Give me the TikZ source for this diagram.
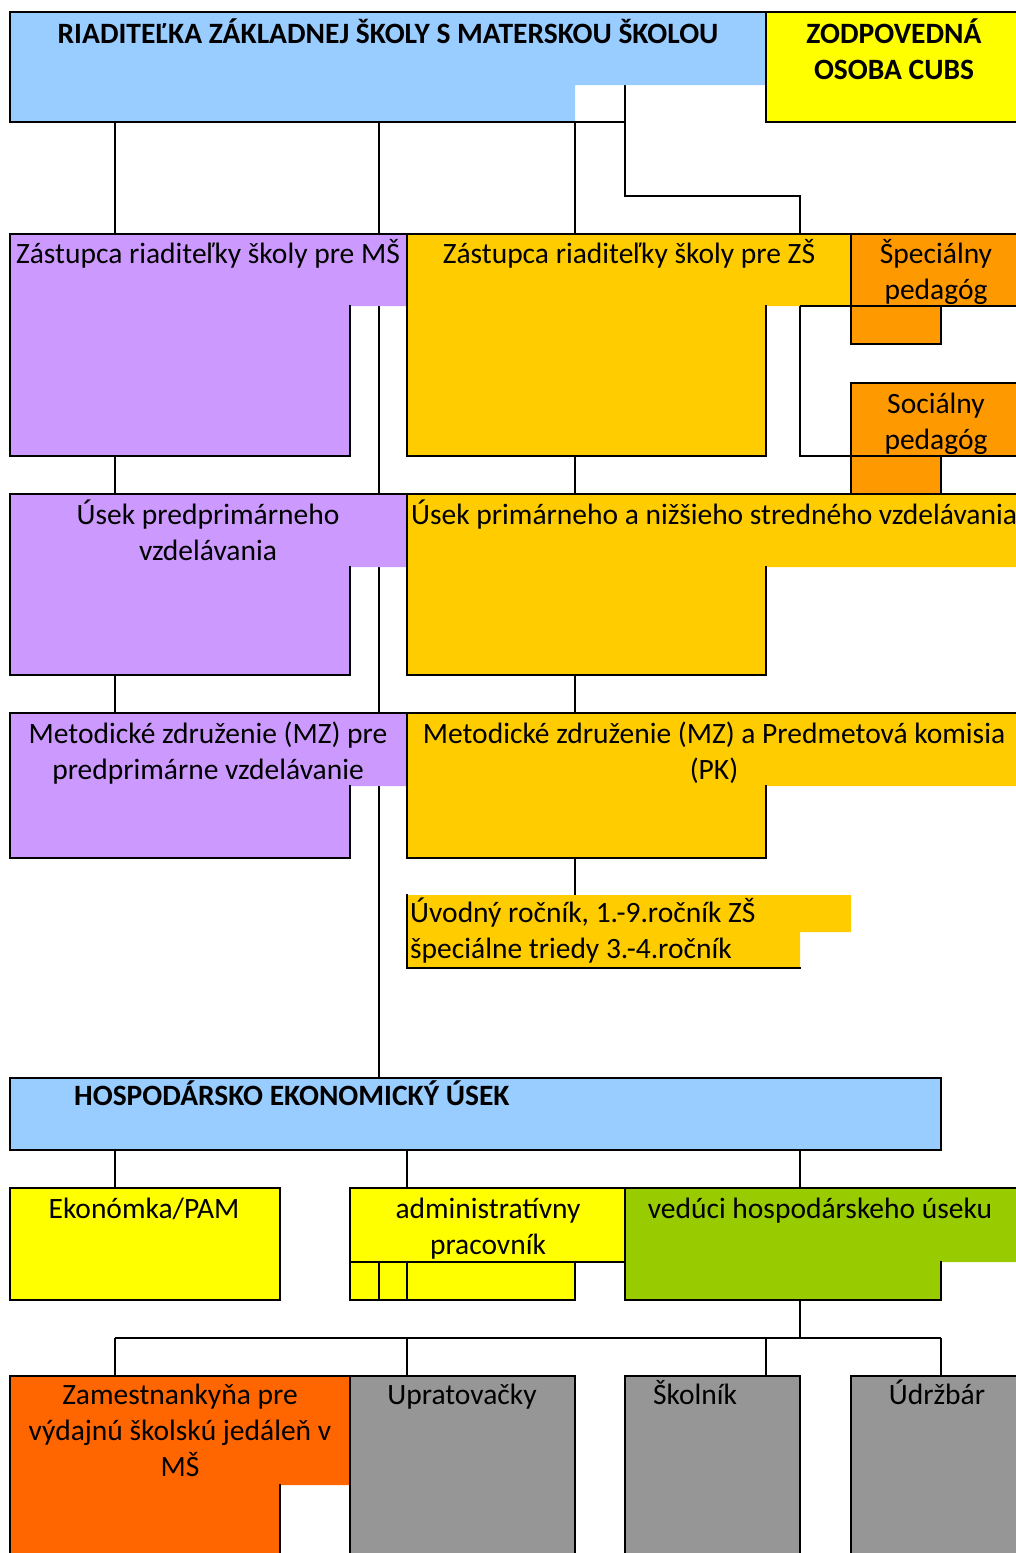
\documentclass[tikz,border=0pt]{standalone}
\usepackage{fontspec}
\setmainfont{Carlito}
\usepackage{xcolor}
\definecolor{skyblue}{HTML}{99CCFF}
\definecolor{lemon}{HTML}{FFFF00}
\definecolor{lilac}{HTML}{CC99FF}
\definecolor{gold}{HTML}{FFCC00}
\definecolor{amber}{HTML}{FF9900}
\definecolor{tangerine}{HTML}{FF6600}
\definecolor{leaf}{HTML}{99CC00}
\definecolor{slate}{HTML}{969696}

\begin{document}
\begin{tikzpicture}[x=1pt,y=-1pt,
    link/.style={line width=1.3pt},
    border/.style={line width=2.4pt,line cap=rect},
    cell/.style={inner sep=0pt,outer sep=0pt,anchor=north west},
    name text/.style={font=\fontsize{29.5}{36}\selectfont,align=center,anchor=base,inner sep=0pt},
    head text/.style={name text,font=\fontsize{29.5}{36}\selectfont\bfseries}]
\useasboundingbox (0,0) rectangle (1016,1553);

% cells of the sheet
\node[cell,minimum width=756pt,minimum height=110pt] (riad) at (10,12) {};
\node[cell,minimum width=250pt,minimum height=110pt] (cubs) at (766,12) {};
\node[cell,minimum width=340pt,minimum height=222pt] (zms) at (10,234) {};
\node[cell,minimum width=359pt,minimum height=222pt] (zzs) at (407,234) {};
\node[cell,minimum width=90pt,minimum height=110pt] (spec) at (851,234) {};
\node[cell,minimum width=90pt,minimum height=111pt] (soc) at (851,383) {};
\node[cell,minimum width=340pt,minimum height=181pt] (upms) at (10,494) {};
\node[cell,minimum width=359pt,minimum height=181pt] (upzs) at (407,494) {};
\node[cell,minimum width=340pt,minimum height=145pt] (mzms) at (10,713) {};
\node[cell,minimum width=359pt,minimum height=145pt] (mzzs) at (407,713) {};
\node[cell,minimum width=393pt,minimum height=73pt] (rocnik) at (407,895) {};
\node[cell,minimum width=931pt,minimum height=72pt] (hosp) at (10,1078) {};
\node[cell,minimum width=270pt,minimum height=112pt] (ekon) at (10,1188) {};
\node[cell,minimum width=225pt,minimum height=112pt] (admin) at (350,1188) {};
\node[cell,minimum width=316pt,minimum height=112pt] (ved) at (625,1188) {};
\node[cell,minimum width=270pt,minimum height=177pt] (jedal) at (10,1376) {};
\node[cell,minimum width=225pt,minimum height=177pt] (uprat) at (350,1376) {};
\node[cell,minimum width=175pt,minimum height=177pt] (skol) at (625,1376) {};
\node[cell,minimum width=165pt,minimum height=177pt] (udrz) at (851,1376) {};

\coordinate (colA) at (115,0);
\coordinate (colB) at (379,0);
\coordinate (colC) at (575,0);
\coordinate (colD) at (407,0);
\coordinate (colE) at (800,0);
\coordinate (colF) at (766,0);
\coordinate (colG) at (941,0);
\coordinate (notch) at (625,85);
\coordinate (bend) at (800,196);
\coordinate (specfoot) at (800,306);
\coordinate (fork) at (800,1338);
\coordinate (rim) at (1016,0);

% lines that run under the coloured cells
\path[link]
    (riad.south -| colA) edge (zms.north -| colA)
    (riad.south -| colB) edge (hosp.north -| colB)
    (riad.south -| colC) edge (zzs.north -| colC)
    (zms.south -| colA) edge (upms.north -| colA)
    (zzs.south -| colC) edge (upzs.north -| colC)
    (upms.south -| colA) edge (mzms.north -| colA)
    (upzs.south -| colC) edge (mzzs.north -| colC)
    (mzzs.south -| colC) edge (rocnik.north -| colC)
    (hosp.south -| colA) edge (ekon.north -| colA)
    (hosp.south -| colD) edge (admin.north -| colD)
    (hosp.south -| colE) edge (ved.north -| colE)
    (ved.south -| colE) edge (fork)
    ;
\draw[link] (notch) |- (bend) -- (zzs.south -| bend) -- (zzs.south -| soc.west);
\draw[link] (fork -| colA) -- (fork -| colG);
\foreach \c/\n in {colA/jedal,colD/uprat,colF/skol,colG/udrz}
    \draw[link] (fork -| \c) -- (\n.north -| \c);

% fills
\fill[skyblue] (10,12) -- (766,12) -- (766,85) -- (575,85) -- (575,122) -- (10,122) -- cycle;
\fill[lemon] (cubs.north west) rectangle (cubs.south east);
\fill[lilac] (10,234) -- (407,234) -- (407,306) -- (350,306) -- (350,456) -- (10,456) -- cycle;
\fill[gold] (407,234) -- (851,234) -- (851,306) -- (766,306) -- (766,456) -- (407,456) -- cycle;
\fill[amber] (851,234) -- (1016,234) -- (1016,306) -- (941,306) -- (941,344) -- (851,344) -- cycle;
\fill[amber] (851,383) -- (1016,383) -- (1016,456) -- (941,456) -- (941,494) -- (851,494) -- cycle;
\fill[lilac] (10,494) -- (407,494) -- (407,567) -- (350,567) -- (350,675) -- (10,675) -- cycle;
\fill[gold] (407,494) -- (1016,494) -- (1016,567) -- (766,567) -- (766,675) -- (407,675) -- cycle;
\fill[lilac] (10,713) -- (407,713) -- (407,786) -- (350,786) -- (350,858) -- (10,858) -- cycle;
\fill[gold] (407,713) -- (1016,713) -- (1016,786) -- (766,786) -- (766,858) -- (407,858) -- cycle;
\fill[gold] (407,895) -- (851,895) -- (851,932) -- (800,932) -- (800,968) -- (407,968) -- cycle;
\fill[skyblue] (hosp.north west) rectangle (hosp.south east);
\fill[lemon] (ekon.north west) rectangle (ekon.south east);
\fill[lemon] (350,1188) -- (625,1188) -- (625,1262) -- (575,1262) -- (575,1300) -- (350,1300) -- cycle;
\fill[leaf] (625,1188) -- (1016,1188) -- (1016,1262) -- (941,1262) -- (941,1300) -- (625,1300) -- cycle;
\fill[tangerine] (10,1376) -- (350,1376) -- (350,1485) -- (280,1485) -- (280,1553) -- (10,1553) -- cycle;
\fill[slate] (uprat.north west) rectangle (uprat.south east);
\fill[slate] (skol.north west) rectangle (skol.south east);
\fill[slate] (udrz.north west) rectangle (udrz.south east);

\draw[link] (specfoot) -- (specfoot -| rim);
\draw[link] (zzs.south -| soc.west) -- (zzs.south -| rim);

% borders
\draw[border] (625,122) -- (10,122) -- (10,12) -- (1016,12);
\draw[border] (766,12) -- (766,122) -- (1016,122);
\draw[border] (10,234) -- (1016,234);
\draw[border] (350,306) -- (350,456) -- (10,456) -- (10,234);
\draw[border] (766,306) -- (766,456) -- (407,456) -- (407,234);
\draw[border] (941,306) -- (941,344) -- (851,344) -- (851,234);
\draw[border] (851,494) -- (851,383) -- (1016,383);
\draw[border] (941,456) -- (941,494);
\draw[border] (10,494) -- (1016,494);
\draw[border] (350,567) -- (350,675) -- (10,675) -- (10,494);
\draw[border] (766,567) -- (766,675) -- (407,675) -- (407,494);
\draw[border] (10,713) -- (1016,713);
\draw[border] (350,786) -- (350,858) -- (10,858) -- (10,713);
\draw[border] (766,786) -- (766,858) -- (407,858) -- (407,713);
\draw[border] (407,895) -- (407,968) -- (800,968);
\draw[border] (hosp.north west) rectangle (hosp.south east);
\draw[border] (ekon.north west) rectangle (ekon.south east);
\draw[border] (625,1188) -- (350,1188) -- (350,1300) -- (575,1300) -- (575,1262);
\draw[border] (350,1262) -- (625,1262);
\draw[link] (379,1262) -- (379,1300);
\draw[link] (407,1262) -- (407,1300);
\draw[border] (1016,1188) -- (625,1188) -- (625,1300) -- (941,1300) -- (941,1262);
\draw[border] (10,1553) -- (10,1376) -- (575,1376) -- (575,1553);
\draw[border] (350,1376) -- (350,1553);
\draw[border] (280,1485) -- (280,1553);
\draw[border] (625,1553) -- (625,1376) -- (800,1376) -- (800,1553);
\draw[border] (851,1553) -- (851,1376) -- (1016,1376);

% texts (multi-line texts sit on the baseline of their last line)
\node[head text] (t-riad) at (388,43) {RIADITEĽKA ZÁKLADNEJ ŠKOLY S MATERSKOU ŠKOLOU};
\node[head text] (t-cubs) at (894,79) {ZODPOVEDNÁ\\OSOBA CUBS};
\node[name text] (t-zms) at (208,263) {Zástupca riaditeľky školy pre MŠ};
\node[name text] (t-zzs) at (629,263) {Zástupca riaditeľky školy pre ZŠ};
\node[name text] (t-spec) at (936,299) {Špeciálny\\pedagóg};
\node[name text] (t-soc) at (936,449) {Sociálny\\pedagóg};
\node[name text] (t-upms) at (208,560) {Úsek predprimárneho\\vzdelávania};
\node[name text,anchor=base west] (t-upzs) at (411,524) {Úsek primárneho a nižšieho stredného vzdelávania};
\node[name text] (t-mzms) at (208,779) {Metodické združenie (MZ) pre\\predprimárne vzdelávanie};
\node[name text] (t-mzzs) at (714,779) {Metodické združenie (MZ) a Predmetová komisia\\(PK)};
\node[name text,align=left,anchor=base west] (t-rocnik) at (410,958) {Úvodný ročník, 1.-9.ročník ZŠ\\špeciálne triedy 3.-4.ročník};
\node[head text,anchor=base west] (t-hosp) at (74,1105) {HOSPODÁRSKO EKONOMICKÝ ÚSEK};
\node[name text] (t-ekon) at (144,1218) {Ekonómka/PAM};
\node[name text] (t-admin) at (488,1254) {administratívny\\pracovník};
\node[name text] (t-ved) at (820,1218) {vedúci hospodárskeho úseku};
\node[name text] (t-jedal) at (180,1476) {Zamestnankyňa pre\\výdajnú školskú jedáleň v\\MŠ};
\node[name text] (t-uprat) at (462,1404) {Upratovačky};
\node[name text] (t-skol) at (695,1404) {Školník};
\node[name text] (t-udrz) at (937,1404) {Údržbár};
\end{tikzpicture}
\end{document}
